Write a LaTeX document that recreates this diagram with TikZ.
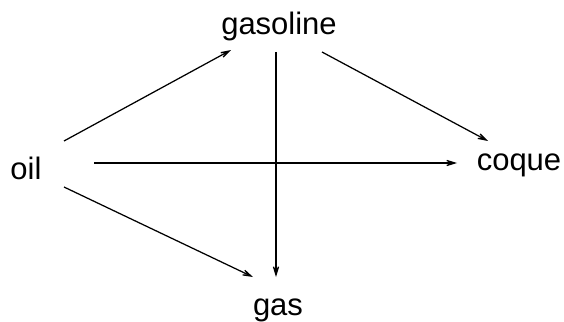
\documentclass[tikz,border=0pt]{standalone}
\usepackage{fontspec}
\setmainfont{Liberation Sans}
\usetikzlibrary{arrows.meta, positioning}

\begin{document}
\begin{tikzpicture}[
    x=1pt, y=-1pt,
    every node/.style={anchor=base, inner sep=0pt, font=\fontsize{31}{34}\selectfont},
    arrow/.style={-{Stealth[length=21pt, width=13pt, inset=15pt]}, line width=1.25pt}
]
\useasboundingbox (0,0) rectangle (564,321);

\node (oil) at (26,179) {oil};
\node (gasoline) at (279,35) {gasoline};
\node (coque) at (519,170) {coque};
\node (gas) at (278,315) {gas};

\draw[arrow] ([shift={(38,-38)}]oil.base) -- ([shift={(-48,15)}]gasoline.base);
\draw[arrow] ([shift={(68,-16)}]oil.base) -- ([shift={(-62,-7)}]coque.base);
\draw[arrow] ([shift={(38,8)}]oil.base) -- ([shift={(-25,-38)}]gas.base);
\draw[arrow] ([shift={(-3,17)}]gasoline.base) -- ([shift={(-2,-38)}]gas.base);
\draw[arrow] ([shift={(43,17)}]gasoline.base) -- ([shift={(-31,-29)}]coque.base);

\end{tikzpicture}
\end{document}
